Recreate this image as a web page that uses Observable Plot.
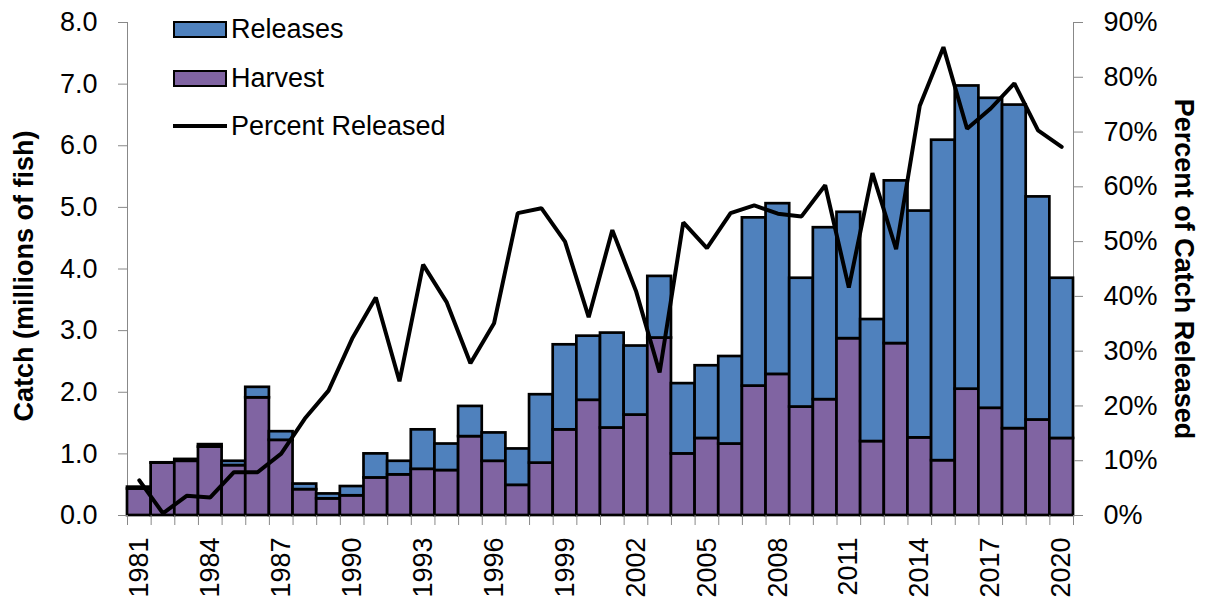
<!DOCTYPE html>
<html><head><meta charset="utf-8">
<script src="https://cdn.jsdelivr.net/npm/d3@7"></script>
<script src="https://cdn.jsdelivr.net/npm/@observablehq/plot@0.6"></script>
<style>
body{margin:0;background:#fff;}
#wrap{position:relative;width:1205px;height:602px;font-family:"Liberation Sans",Arial,sans-serif;}
.leg{position:absolute;left:173px;height:30px;display:flex;align-items:center;font-size:27px;color:#000;white-space:nowrap}
.sw{width:54px;height:17px;box-sizing:border-box;border:2px solid #000;margin-right:4px}
.ln{width:54px;height:4px;background:#000;margin-right:4px}
</style></head><body><div id="wrap"></div>
<script>
const years = [1981,1982,1983,1984,1985,1986,1987,1988,1989,1990,1991,1992,1993,1994,1995,1996,1997,1998,1999,2000,2001,2002,2003,2004,2005,2006,2007,2008,2009,2010,2011,2012,2013,2014,2015,2016,2017,2018,2019,2020];
const labelYears = [1981,1984,1987,1990,1993,1996,1999,2002,2005,2008,2011,2014,2017,2020];
const harvest = [0.43,0.85,0.88,1.11,0.81,1.91,1.22,0.42,0.27,0.32,0.61,0.66,0.75,0.73,1.28,0.88,0.49,0.85,1.39,1.87,1.42,1.63,2.88,1.00,1.25,1.16,2.10,2.29,1.76,1.88,2.87,1.20,2.79,1.26,0.89,2.05,1.74,1.41,1.55,1.25];
const releases = [0.03,0.005,0.03,0.04,0.07,0.17,0.14,0.09,0.08,0.15,0.39,0.22,0.64,0.43,0.49,0.46,0.59,1.11,1.38,1.04,1.54,1.12,1.00,1.14,1.18,1.42,2.73,2.77,2.09,2.79,2.05,1.98,2.64,3.68,5.20,4.92,5.03,5.25,3.62,2.60];
const percent = [6.4,0.4,3.6,3.3,7.9,7.9,11.3,17.7,22.8,32.3,39.8,24.5,45.8,38.9,27.8,35.1,55.2,56.1,50.0,36.2,52.1,41.0,26.1,53.5,48.8,55.2,56.6,55.1,54.6,60.3,41.6,62.5,48.6,74.8,85.5,70.6,74.3,78.9,70.3,67.3];
const leftTicks = [0,1,2,3,4,5,6,7,8];
const rightTicks = [0,10,20,30,40,50,60,70,80,90];
const seriesNames = ["Releases","Harvest"];
const seriesColors = ["#4F81BD","#8064A2"];

const PCT = 8/90; // percent axis (0-90%) mapped onto the catch axis (0-8)
const long = years.flatMap((y,i)=>[
  {year:y, series:"Harvest", value:harvest[i]},
  {year:y, series:"Releases", value:releases[i]}
]);
const pctData = years.map((y,i)=>({year:y, pct:percent[i]}));
const W=1205,H=602,ML=127,MR=132,MT=22,MB=87;
const bw = (W-ML-MR)/years.length;
const font = '"Liberation Sans", Arial, sans-serif';

const chart = Plot.plot({
  width:W, height:H, marginLeft:ML, marginRight:MR, marginTop:MT, marginBottom:MB,
  style:{fontFamily:font, fontSize:"27px", color:"#000", background:"#fff", overflow:"visible"},
  x:{type:"band", domain:years, padding:0, round:false},
  y:{domain:[0,8]},
  color:{domain:seriesNames, range:seriesColors},
  marks:[
    Plot.ruleY([0],{stroke:"#888"}),
    Plot.frame({anchor:"left", stroke:"#888"}),
    Plot.frame({anchor:"right", stroke:"#888"}),
    Plot.barY(long,{x:"year", y:"value", fill:"series", stroke:"#000", strokeWidth:2.7, inset:0, order:["Harvest","Releases"]}),
    Plot.line(pctData,{x:"year", y:d=>d.pct*PCT, stroke:"#000", strokeWidth:4, strokeLinejoin:"miter"}),
    Plot.axisY(leftTicks,{anchor:"left", tickSize:9, tickPadding:21, tickFormat:d3.format(".1f"), stroke:"#888", fill:"#000", label:null}),
    Plot.axisY(rightTicks.map(p=>p*PCT),{anchor:"right", tickSize:9, tickPadding:21, tickFormat:d=>Math.round(d/PCT)+"%", stroke:"#888", fill:"#000", textAnchor:"start", label:null}),
    Plot.axisX({ticks:years, tickSize:10, tickFormat:()=>"", dx:-bw/2, stroke:"#888", label:null}),
    Plot.axisX({ticks:[years[years.length-1]], tickSize:10, tickFormat:()=>"", dx:bw/2, stroke:"#888", label:null}),
    Plot.axisX({ticks:labelYears, tickSize:0, tickPadding:22, tickRotate:-90, tickFormat:d=>String(d), fill:"#000", label:null}),
    Plot.text(["Catch (millions of fish)"],{frameAnchor:"left", textAnchor:"middle", dx:-103, dy:7, rotate:-90, fontWeight:"bold", fontSize:27, fill:"#000"}),
    Plot.text(["Percent of Catch Released"],{frameAnchor:"right", textAnchor:"middle", dx:110, rotate:90, fontWeight:"bold", fontSize:27, fill:"#000"})
  ]
});
const wrap = document.getElementById("wrap");
wrap.appendChild(chart);

// legend (inside the plot area, top-left)
const legItems = [
  {label:seriesNames[0], color:seriesColors[0], type:"box", top:14},
  {label:seriesNames[1], color:seriesColors[1], type:"box", top:63},
  {label:"Percent Released", color:"#000", type:"line", top:111}
];
for (const it of legItems){
  const d = document.createElement("div");
  d.className="leg"; d.style.top = it.top+"px";
  const s = document.createElement("div");
  s.className = it.type==="box" ? "sw" : "ln";
  s.style.background = it.color;
  d.appendChild(s);
  const t = document.createElement("span"); t.textContent = it.label;
  d.appendChild(t);
  wrap.appendChild(d);
}
</script></body></html>
